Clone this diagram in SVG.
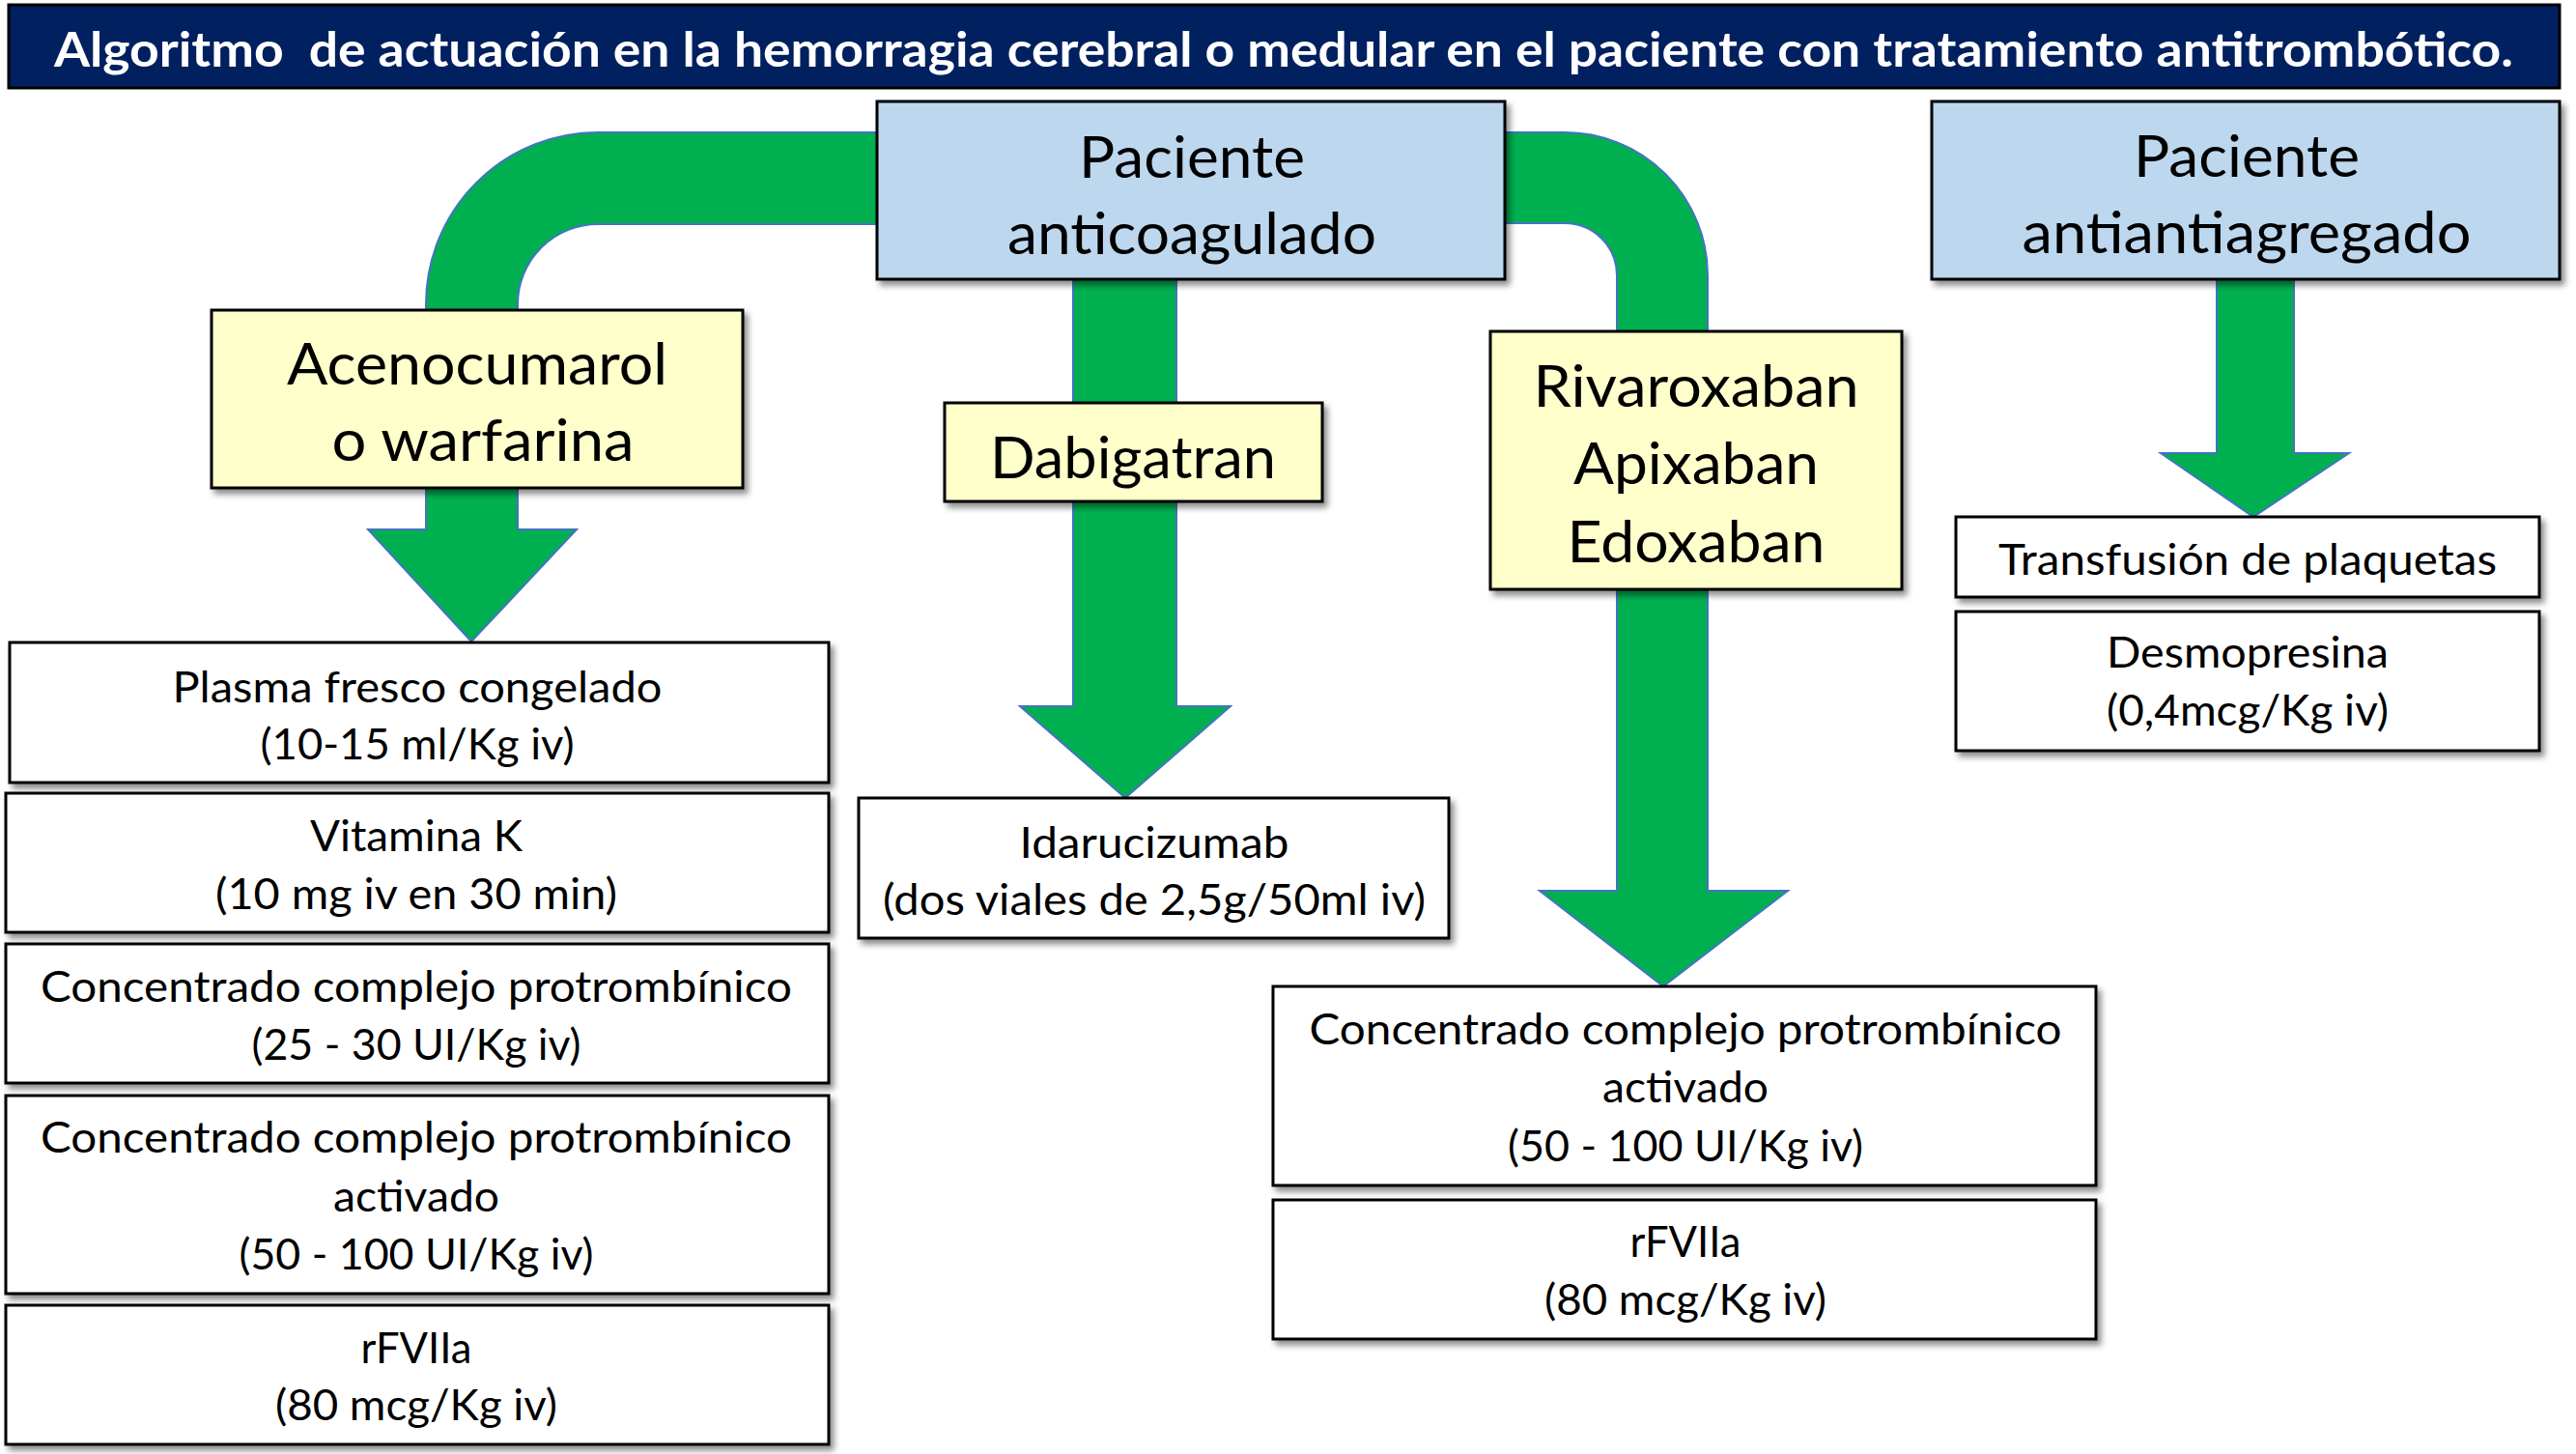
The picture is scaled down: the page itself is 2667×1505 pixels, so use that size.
<svg xmlns="http://www.w3.org/2000/svg" width="2667" height="1505" viewBox="0 0 2667 1505">
<defs>
<filter id="sh" x="-5%" y="-5%" width="115%" height="125%">
<feDropShadow dx="4" dy="5" stdDeviation="3" flood-color="#000" flood-opacity="0.45"/>
</filter>
<style>
.box{stroke:#000;stroke-width:3;filter:url(#sh)}
.blue{fill:#BDD7EE}
.yel{fill:#FFFFCC}
.wht{fill:#FFFFFF}
.arr{fill:#00B050;stroke:#4472C4;stroke-width:2}
text{font-family:Lato,"Liberation Sans",Arial,sans-serif;fill:#000;text-anchor:middle}
.big{font-size:60px}
.sm{font-size:45px}
.ttl{font-size:49px;font-weight:bold;fill:#fff}
</style>
</defs>
<rect width="2667" height="1505" fill="#fff"/>
<g id="title">
<rect x="9" y="5" width="2641" height="86" fill="#002060" stroke="#000" stroke-width="3"/>
<text class="ttl" x="1329" y="69" textLength="2546" lengthAdjust="spacingAndGlyphs" xml:space="preserve">Algoritmo  de actuación en la hemorragia cerebral o medular en el paciente con tratamiento antitrombótico.</text>
</g>
<g id="connectors">
<path class="arr" d="M910,137 H619 A178,178 0 0 0 441,315 V548 H381 L488,664 L597,548 H536 V315 A83,83 0 0 1 619,232 H910 Z"/>
<path class="arr" d="M1111,287 V731 H1056 L1165,826 L1274,731 H1218 V287 Z"/>
<path class="arr" d="M1556,137 H1620 A148,148 0 0 1 1768,285 V922 H1851 L1722,1021 L1594,922 H1674 V285 A54,54 0 0 0 1620,231 H1556 Z"/>
<path class="arr" d="M2295,287 V469 H2237 L2333,535 L2432,469 H2375 V287 Z"/>
</g>
<g id="anticoagulado">
<rect class="box blue" x="908" y="105" width="650" height="184"/>
<text class="big" x="1234" y="184" textLength="234" lengthAdjust="spacingAndGlyphs">Paciente</text>
<text class="big" x="1234" y="263" textLength="382" lengthAdjust="spacingAndGlyphs">anticoagulado</text>
</g>
<g id="antiagregado">
<rect class="box blue" x="2000" y="105" width="650" height="184"/>
<text class="big" x="2326" y="183" textLength="234" lengthAdjust="spacingAndGlyphs">Paciente</text>
<text class="big" x="2326" y="262" textLength="465" lengthAdjust="spacingAndGlyphs">antiantiagregado</text>
</g>
<g id="acenocumarol">
<rect class="box yel" x="219" y="321" width="550" height="184"/>
<text class="big" x="494" y="398" textLength="394" lengthAdjust="spacingAndGlyphs">Acenocumarol</text>
<text class="big" x="500" y="477" textLength="313" lengthAdjust="spacingAndGlyphs">o warfarina</text>
</g>
<g id="dabigatran">
<rect class="box yel" x="978" y="417" width="391" height="102"/>
<text class="big" x="1173" y="495" textLength="296" lengthAdjust="spacingAndGlyphs">Dabigatran</text>
</g>
<g id="xabanes">
<rect class="box yel" x="1543" y="343" width="426" height="267"/>
<text class="big" x="1756" y="421" textLength="337" lengthAdjust="spacingAndGlyphs">Rivaroxaban</text>
<text class="big" x="1756" y="501" textLength="254" lengthAdjust="spacingAndGlyphs">Apixaban</text>
<text class="big" x="1756" y="582" textLength="267" lengthAdjust="spacingAndGlyphs">Edoxaban</text>
</g>
<g id="plasma">
<rect class="box wht" x="10" y="665" width="848" height="145"/>
<text class="sm" x="432" y="727" textLength="507" lengthAdjust="spacingAndGlyphs">Plasma fresco congelado</text>
<text class="sm" x="432" y="786" textLength="325" lengthAdjust="spacingAndGlyphs">(10-15 ml/Kg iv)</text>
</g>
<g id="vitaminak">
<rect class="box wht" x="6" y="821" width="852" height="144"/>
<text class="sm" x="431" y="881" textLength="220" lengthAdjust="spacingAndGlyphs">Vitamina K</text>
<text class="sm" x="431" y="941" textLength="416" lengthAdjust="spacingAndGlyphs">(10 mg iv en 30 min)</text>
</g>
<g id="ccp">
<rect class="box wht" x="6" y="977" width="852" height="144"/>
<text class="sm" x="431" y="1037" textLength="778" lengthAdjust="spacingAndGlyphs">Concentrado complejo protrombínico</text>
<text class="sm" x="431" y="1097" textLength="341" lengthAdjust="spacingAndGlyphs">(25 - 30 UI/Kg iv)</text>
</g>
<g id="ccpa-left">
<rect class="box wht" x="6" y="1134" width="852" height="205"/>
<text class="sm" x="431" y="1193" textLength="778" lengthAdjust="spacingAndGlyphs">Concentrado complejo protrombínico</text>
<text class="sm" x="431" y="1254" textLength="172" lengthAdjust="spacingAndGlyphs">activado</text>
<text class="sm" x="431" y="1314" textLength="367" lengthAdjust="spacingAndGlyphs">(50 - 100 UI/Kg iv)</text>
</g>
<g id="rfviia-left">
<rect class="box wht" x="6" y="1351" width="852" height="144"/>
<text class="sm" x="431" y="1411" textLength="115" lengthAdjust="spacingAndGlyphs">rFVIIa</text>
<text class="sm" x="431" y="1470" textLength="292" lengthAdjust="spacingAndGlyphs">(80 mcg/Kg iv)</text>
</g>
<g id="idarucizumab">
<rect class="box wht" x="889" y="826" width="611" height="145"/>
<text class="sm" x="1195" y="888" textLength="279" lengthAdjust="spacingAndGlyphs">Idarucizumab</text>
<text class="sm" x="1195" y="947" textLength="562" lengthAdjust="spacingAndGlyphs">(dos viales de 2,5g/50ml iv)</text>
</g>
<g id="ccpa-right">
<rect class="box wht" x="1318" y="1021" width="852" height="206"/>
<text class="sm" x="1745" y="1081" textLength="779" lengthAdjust="spacingAndGlyphs">Concentrado complejo protrombínico</text>
<text class="sm" x="1745" y="1141" textLength="172" lengthAdjust="spacingAndGlyphs">activado</text>
<text class="sm" x="1745" y="1202" textLength="368" lengthAdjust="spacingAndGlyphs">(50 - 100 UI/Kg iv)</text>
</g>
<g id="rfviia-right">
<rect class="box wht" x="1318" y="1242" width="852" height="144"/>
<text class="sm" x="1745" y="1301" textLength="115" lengthAdjust="spacingAndGlyphs">rFVIIa</text>
<text class="sm" x="1745" y="1361" textLength="292" lengthAdjust="spacingAndGlyphs">(80 mcg/Kg iv)</text>
</g>
<g id="transfusion">
<rect class="box wht" x="2025" y="535" width="604" height="83"/>
<text class="sm" x="2327" y="595" textLength="516" lengthAdjust="spacingAndGlyphs">Transfusión de plaquetas</text>
</g>
<g id="desmopresina">
<rect class="box wht" x="2025" y="633" width="604" height="144"/>
<text class="sm" x="2327" y="691" textLength="292" lengthAdjust="spacingAndGlyphs">Desmopresina</text>
<text class="sm" x="2327" y="751" textLength="292" lengthAdjust="spacingAndGlyphs">(0,4mcg/Kg iv)</text>
</g>
</svg>
